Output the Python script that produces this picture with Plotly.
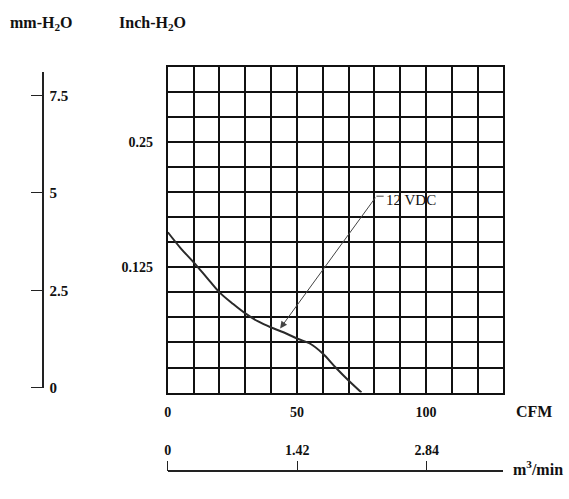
import plotly.graph_objects as go

# ---- data ----
cfm = [0, 5, 10, 15, 20, 25, 30, 35, 40, 45, 50, 55, 60, 65, 70, 75]
pressure_inch = [0.160, 0.144, 0.130, 0.115, 0.100, 0.089, 0.079, 0.071,
                 0.065, 0.060, 0.054, 0.049, 0.039, 0.025, 0.012, 0.0]

cfm_ticks = [0, 50, 100]
inch_ticks = [0.125, 0.25]
inch_tick_text = ["0.125", "0.25"]
mm_ticks = [0, 2.5, 5, 7.5]
mm_tick_text = ["0", "2.5", "5", "7.5"]
m3_ticks = [0, 1.42, 2.84]
m3_tick_text = ["0", "1.42", "2.84"]

curve_label = "12 VDC"
arrow_tip = (43.5, 0.064)      # CFM, inch
arrow_tail = (80.8, 0.196)
label_anchor = (83.6, 0.192)

CFM_TO_M3 = 0.02832
X_MAX = 130
Y_MAX = 0.325

SERIF = "Liberation Serif, Times New Roman, serif"
W, H = 569, 499

def px(x):
    return x / W

def py(y):
    return (H - y) / H

fig = go.Figure()

# main curve
fig.add_trace(go.Scatter(
    x=cfm, y=pressure_inch, mode="lines",
    line=dict(color="#2a2a2a", width=2, shape="spline", smoothing=1.0),
    showlegend=False, hoverinfo="skip"))

# dummy traces to activate secondary axes
fig.add_trace(go.Scatter(x=[0], y=[None], xaxis="x2", yaxis="y",
                         mode="markers", showlegend=False, hoverinfo="skip"))
fig.add_trace(go.Scatter(x=[None], y=[0], xaxis="x3", yaxis="y2",
                         mode="markers", showlegend=False, hoverinfo="skip"))

grid_col = "#111111"
tick_font = dict(family=SERIF, size=14, color="#111111", weight="bold")

fig.update_layout(
    width=W, height=H,
    margin=dict(l=0, r=0, t=0, b=0),
    paper_bgcolor="white", plot_bgcolor="white",
    showlegend=False,
    xaxis=dict(
        domain=[px(165), px(503)], range=[0, X_MAX],
        tickvals=cfm_ticks, ticktext=[str(v) for v in cfm_ticks],
        showgrid=True, gridcolor=grid_col, gridwidth=2,
        minor=dict(dtick=10, tick0=0, showgrid=True, gridcolor=grid_col, gridwidth=2),
        showline=True, linecolor=grid_col, linewidth=2, mirror=True,
        zeroline=False, ticks="", ticklabelstandoff=6,
        tickfont=tick_font, fixedrange=True,
    ),
    yaxis=dict(
        domain=[py(399), py(68)], range=[0, Y_MAX],
        tickvals=inch_ticks, ticktext=inch_tick_text,
        showgrid=True, gridcolor=grid_col, gridwidth=2,
        minor=dict(dtick=0.025, tick0=0, showgrid=True, gridcolor=grid_col, gridwidth=2),
        showline=True, linecolor=grid_col, linewidth=2, mirror=True,
        zeroline=False, ticks="", ticklabelstandoff=10,
        tickfont=tick_font, fixedrange=True,
    ),
    xaxis2=dict(
        overlaying="x", side="top", anchor="free", position=py(479),
        range=[0, X_MAX * CFM_TO_M3],
        tickvals=m3_ticks, ticktext=m3_tick_text,
        showgrid=False, zeroline=False,
        showline=True, linecolor="#222222", linewidth=1.5,
        ticks="outside", ticklen=10, tickwidth=1.2, tickcolor="#222222",
        tickfont=tick_font, fixedrange=True,
    ),
    xaxis3=dict(visible=False, domain=[0, 0.05], anchor="y2", range=[0, 1]),
    yaxis2=dict(
        anchor="free", position=px(39), side="left",
        domain=[py(394), py(73)], range=[0, 8.106],
        tickvals=mm_ticks, ticktext=mm_tick_text,
        showgrid=False, zeroline=False,
        showline=True, linecolor="#222222", linewidth=1.5,
        ticks="outside", ticklen=11, tickwidth=1.2, tickcolor="#222222",
        ticklabelposition="inside", ticklabelstandoff=6,
        ticklabeloverflow="allow",
        tickfont=dict(family=SERIF, size=15, color="#111111", weight="bold"),
        fixedrange=True,
    ),
)

title_font = dict(family=SERIF, size=16, color="#111111", weight="bold")
unit_font = dict(family=SERIF, size=16, color="#111111", weight="bold")

annotations = [
    dict(text="mm-H<sub>2</sub>O", x=px(4), y=py(24), xref="paper", yref="paper",
         xanchor="left", yanchor="middle", showarrow=False, font=title_font),
    dict(text="Inch-H<sub>2</sub>O", x=px(114), y=py(24), xref="paper", yref="paper",
         xanchor="left", yanchor="middle", showarrow=False, font=title_font),
    dict(text="CFM", x=px(514), y=py(418), xref="paper", yref="paper",
         xanchor="left", yanchor="middle", showarrow=False, font=unit_font),
    dict(text="m<sup>3</sup>/min", x=px(511), y=py(476), xref="paper", yref="paper",
         xanchor="left", yanchor="middle", showarrow=False, font=unit_font),
    # arrow pointing at the curve
    dict(text="", x=arrow_tip[0], y=arrow_tip[1], xref="x", yref="y",
         ax=arrow_tail[0], ay=arrow_tail[1], axref="x", ayref="y",
         showarrow=True, arrowhead=2, arrowsize=1.4, arrowwidth=1,
         arrowcolor="#444444"),
    dict(text=curve_label, x=label_anchor[0], y=label_anchor[1], xref="x", yref="y",
         xanchor="left", yanchor="middle", showarrow=False,
         font=dict(family=SERIF, size=15, color="#111111")),
]
fig.update_layout(annotations=annotations)

# short leader from arrow tail to label
fig.add_shape(type="line", xref="x", yref="y",
              x0=arrow_tail[0], y0=arrow_tail[1], x1=label_anchor[0], y1=arrow_tail[1],
              line=dict(color="#444444", width=1))

fig.write_html("out.html")
